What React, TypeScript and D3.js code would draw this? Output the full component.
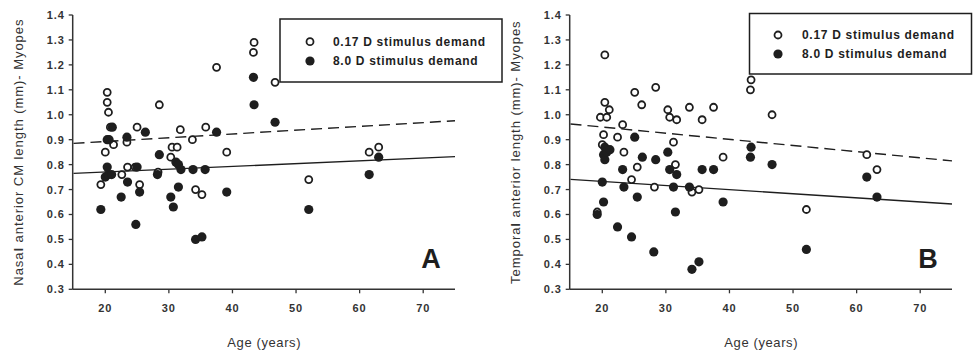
import React from "react";
import * as d3 from "d3";

// ---------- data ----------
const yTicks = [0.3, 0.4, 0.5, 0.6, 0.7, 0.8, 0.9, 1.0, 1.1, 1.2, 1.3, 1.4];
const xTicks = [20, 30, 40, 50, 60, 70];
const legendLabels = ["0.17 D stimulus demand", "8.0 D stimulus demand"];

// Panel A (nasal) — [age, length]
const nasalOpen: [number, number][] = [
  [19.3, 0.72], [20.0, 0.85], [20.3, 1.09], [20.3, 1.05], [20.5, 1.01], [20.8, 0.95],
  [21.3, 0.88], [22.6, 0.76], [23.4, 0.89], [23.5, 0.79], [24.7, 0.79], [25.0, 0.95],
  [25.4, 0.72], [28.3, 0.77], [28.5, 1.04], [30.3, 0.83], [30.5, 0.87], [31.3, 0.87],
  [31.8, 0.94], [33.7, 0.90], [34.2, 0.70], [35.2, 0.68], [35.8, 0.95], [37.5, 1.19],
  [39.1, 0.85], [43.4, 1.29], [43.3, 1.25], [46.7, 1.13], [52.0, 0.74], [61.5, 0.85],
  [63.0, 0.87],
];
const nasalFilled: [number, number][] = [
  [19.3, 0.62], [20.0, 0.75], [20.3, 0.79], [20.5, 0.76], [21.0, 0.76], [20.3, 0.90],
  [20.6, 0.90], [21.1, 0.95], [22.5, 0.67], [23.4, 0.91], [23.5, 0.73], [24.8, 0.56],
  [25.0, 0.79], [25.4, 0.69], [26.3, 0.93], [28.2, 0.76], [28.5, 0.84], [30.3, 0.67],
  [30.7, 0.63], [31.1, 0.81], [31.5, 0.80], [31.5, 0.71], [31.9, 0.78], [33.8, 0.78],
  [34.2, 0.50], [35.2, 0.51], [35.7, 0.78], [37.5, 0.93], [39.1, 0.69], [43.3, 1.15],
  [43.4, 1.04], [46.7, 0.97], [52.0, 0.62], [61.5, 0.76], [63.0, 0.83],
];
// fitted lines: value at age 15 and at age 75
const nasalFitOpen = [0.885, 0.976];
const nasalFitFilled = [0.765, 0.832];

// Panel B (temporal)
const temporalOpen: [number, number][] = [
  [20.4, 1.24], [20.4, 1.05], [19.7, 0.99], [20.7, 0.99], [21.1, 1.02], [20.2, 0.92],
  [20.0, 0.88], [23.2, 0.96], [22.4, 0.91], [23.4, 0.85], [25.1, 1.09], [26.2, 1.04],
  [25.5, 0.79], [24.6, 0.74], [28.4, 1.11], [28.2, 0.71], [30.3, 1.02], [30.6, 0.99],
  [31.7, 0.98], [31.2, 0.89], [31.5, 0.80], [33.7, 1.03], [34.1, 0.69], [35.2, 0.70],
  [35.7, 0.98], [37.5, 1.03], [39.0, 0.83], [43.4, 1.14], [43.3, 1.10], [46.7, 1.00],
  [19.2, 0.61], [52.1, 0.62], [61.6, 0.84], [63.2, 0.78],
];
const temporalFilled: [number, number][] = [
  [19.2, 0.60], [20.0, 0.73], [20.2, 0.65], [20.2, 0.84], [20.4, 0.82], [20.4, 0.87],
  [20.7, 0.85], [21.2, 0.86], [22.4, 0.55], [23.2, 0.78], [23.4, 0.71], [24.6, 0.51],
  [25.1, 0.91], [25.5, 0.67], [26.3, 0.83], [28.1, 0.45], [28.4, 0.82], [30.3, 0.85],
  [30.6, 0.78], [31.2, 0.71], [31.5, 0.61], [31.7, 0.76], [33.7, 0.71], [34.1, 0.38],
  [35.2, 0.41], [35.7, 0.78], [37.5, 0.78], [39.0, 0.65], [43.4, 0.87], [43.3, 0.83],
  [46.7, 0.80], [52.1, 0.46], [61.6, 0.75], [63.2, 0.67],
];
const temporalFitOpen = [0.963, 0.815];
const temporalFitFilled = [0.741, 0.642];

const FONT = "'Liberation Sans', Arial, sans-serif";
const INK = "#1e1e1e";
const R_OPEN = 3.5;
const SW_OPEN = 1.8;
const R_FILL = 4.6;

type PanelProps = {
  x0: number;
  x1: number;
  open: [number, number][];
  filled: [number, number][];
  fitOpen: number[];
  fitFilled: number[];
  titleBold: string;
  titleRest: string;
  titleX: number;
  letter: string;
  legend: { x: number; y: number; w: number; h: number; mx: number; tx: number; r1: number; r2: number };
};

function Panel(p: PanelProps) {
  const x = d3.scaleLinear().domain([15, 75]).range([p.x0, p.x1]);
  const y = d3.scaleLinear().domain([0.3, 1.4]).range([289.3, 15]);
  const line = d3
    .line<[number, number]>()
    .x((d) => x(d[0]))
    .y((d) => y(d[1]));
  const fitO: [number, number][] = [[15, p.fitOpen[0]], [75, p.fitOpen[1]]];
  const fitF: [number, number][] = [[15, p.fitFilled[0]], [75, p.fitFilled[1]]];
  const axisX = p.x0 - 0.8;
  const cx = (p.x0 + p.x1) / 2;
  return (
    <g>
      {/* regression lines */}
      <path d={line(fitO) || ""} fill="none" stroke={INK} strokeWidth={1.4} strokeDasharray="11,6" />
      <path d={line(fitF) || ""} fill="none" stroke={INK} strokeWidth={1.4} />
      {/* points */}
      {p.open.map((d, i) => (
        <circle key={"o" + i} cx={x(d[0])} cy={y(d[1])} r={R_OPEN} fill="#fff" stroke={INK} strokeWidth={SW_OPEN} />
      ))}
      {p.filled.map((d, i) => (
        <circle key={"f" + i} cx={x(d[0])} cy={y(d[1])} r={R_FILL} fill={INK} />
      ))}
      {/* axes */}
      <line x1={axisX} x2={axisX} y1={y(1.4)} y2={y(0.3)} stroke="#333" strokeWidth={1.5} />
      <line x1={axisX} x2={x(75)} y1={y(0.3)} y2={y(0.3)} stroke="#333" strokeWidth={1.5} />
      {yTicks.map((t) => (
        <g key={"y" + t}>
          <line x1={axisX - 4} x2={axisX} y1={y(t)} y2={y(t)} stroke="#333" strokeWidth={1.3} />
          <text
            x={axisX - 8}
            y={y(t)}
            dy="0.36em"
            textAnchor="end"
            fontFamily={FONT}
            fontWeight="bold"
            fontSize={11}
            letterSpacing={0.9}
            fill="#333"
          >
            {t.toFixed(1)}
          </text>
        </g>
      ))}
      {xTicks.map((t) => (
        <g key={"x" + t}>
          <line x1={x(t)} x2={x(t)} y1={y(0.3)} y2={y(0.3) + 4} stroke="#333" strokeWidth={1.3} />
          <text
            x={x(t)}
            y={312}
            textAnchor="middle"
            fontFamily={FONT}
            fontWeight="bold"
            fontSize={11}
            letterSpacing={0.9}
            fill="#333"
          >
            {t}
          </text>
        </g>
      ))}
      <text x={cx} y={347} textAnchor="middle" fontFamily={FONT} fontSize={13} letterSpacing={0.6} fill="#333">
        Age (years)
      </text>
      <text
        transform={`translate(${p.titleX},${(y(0.3) + y(1.4)) / 2}) rotate(-90)`}
        textAnchor="middle"
        dy="0.35em"
        fontFamily={FONT}
        fontSize={13}
        letterSpacing={0.95}
        fill="#333"
      >
        {p.titleBold}
        <tspan fontWeight="bold">l</tspan>
        {p.titleRest}
      </text>
      <text x={x(70) - 2} y={268} fontFamily={FONT} fontWeight="bold" fontSize={27} fill={INK}>
        {p.letter}
      </text>
      {/* legend */}
      <rect x={p.legend.x} y={p.legend.y} width={p.legend.w} height={p.legend.h} fill="#fff" stroke={INK} strokeWidth={1.5} />
      <circle cx={p.legend.mx} cy={p.legend.r1} r={R_OPEN} fill="#fff" stroke={INK} strokeWidth={SW_OPEN} />
      <circle cx={p.legend.mx} cy={p.legend.r2} r={R_FILL} fill={INK} />
      {legendLabels.map((lab, i) => (
        <text
          key={lab}
          x={p.legend.tx}
          y={i === 0 ? p.legend.r1 : p.legend.r2}
          dy="0.36em"
          fontFamily={FONT}
          fontWeight="bold"
          fontSize={12}
          letterSpacing={0.7}
          fill={INK}
        >
          {lab}
        </text>
      ))}
    </g>
  );
}

export default function App() {
  return (
    <svg
      width={979}
      height={351}
      style={{ position: "absolute", left: 0, top: 0, background: "#fff", display: "block" }}
    >
      <rect width={979} height={351} fill="#fff" />
      <Panel
        x0={73.5}
        x1={455}
        open={nasalOpen}
        filled={nasalFilled}
        fitOpen={nasalFitOpen}
        fitFilled={nasalFitFilled}
        titleBold="Nasa"
        titleRest=" anterior CM length (mm)- Myopes"
        titleX={18}
        letter="A"
        legend={{ x: 280, y: 19, w: 222, h: 63, mx: 310, tx: 333, r1: 41.7, r2: 61 }}
      />
      <Panel
        x0={570.5}
        x1={952}
        open={temporalOpen}
        filled={temporalFilled}
        fitOpen={temporalFitOpen}
        fitFilled={temporalFitFilled}
        titleBold="Tempora"
        titleRest=" anterior length (mm)- Myopes"
        titleX={515}
        letter="B"
        legend={{ x: 749.5, y: 13.5, w: 222, h: 60.5, mx: 778, tx: 802, r1: 35, r2: 54 }}
      />
    </svg>
  );
}
